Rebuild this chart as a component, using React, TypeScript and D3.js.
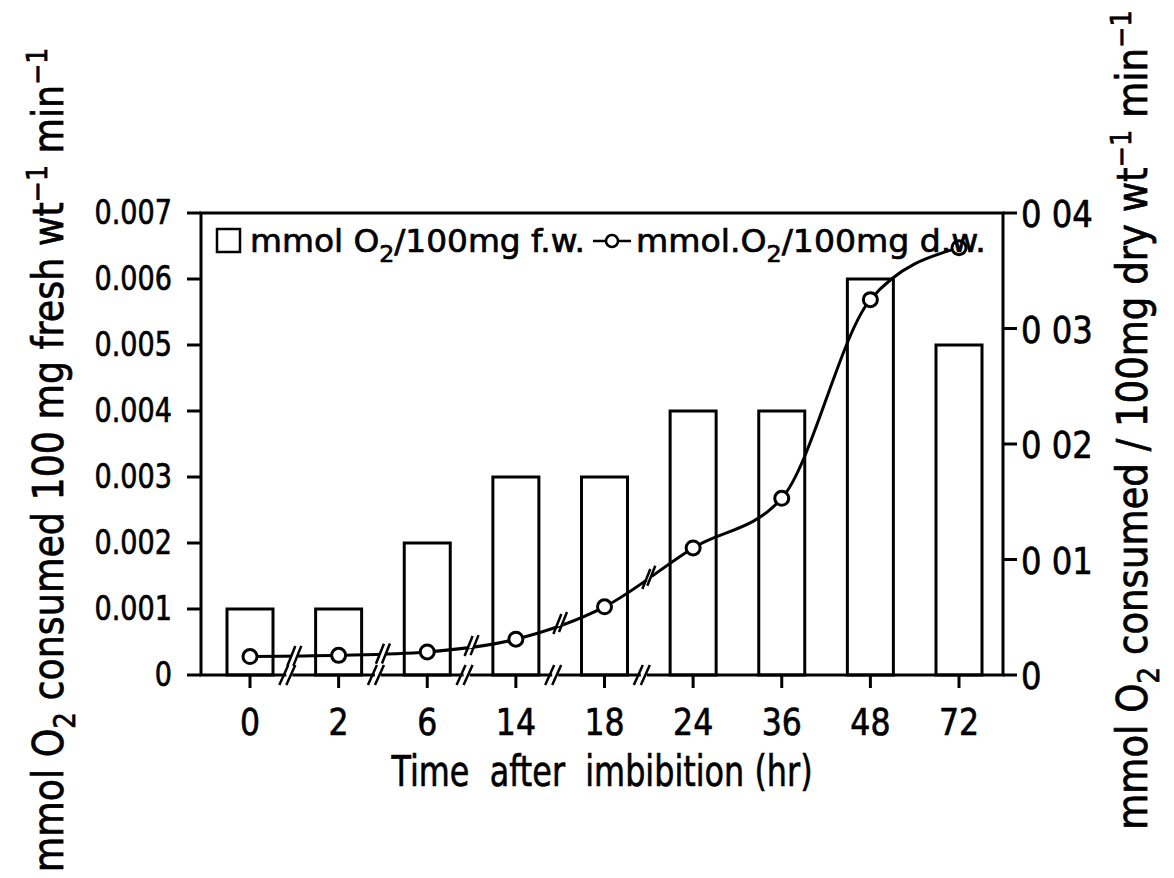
import React, { useLayoutEffect, useRef, useState } from 'react';
import * as d3 from 'd3';

// ---------- data ----------
const categories = ['0', '2', '6', '14', '18', '24', '36', '48', '72'];
const freshWt = [0.001, 0.001, 0.002, 0.003, 0.003, 0.004, 0.004, 0.006, 0.005];
const dryWt = [0.0016, 0.0017, 0.002, 0.0031, 0.0059, 0.011, 0.0153, 0.0325, 0.037];
const leftTicks = [0, 0.001, 0.002, 0.003, 0.004, 0.005, 0.006, 0.007];
const leftTickLabels = ['0', '0.001', '0.002', '0.003', '0.004', '0.005', '0.006', '0.007'];
const rightTicks = [0, 0.01, 0.02, 0.03, 0.04];
const rightTickLabels = ['0', '0 01', '0 02', '0 03', '0 04'];
const brokenSegments = [0, 1, 2, 3, 4]; // gaps after these category indices
const legendFresh = ['mmol O', '2', '/100mg f.w.'];
const legendDry = ['mmol.O', '2', '/100mg d.w.'];
const xTitle = 'Time  after  imbibition (hr)';

// ---------- layout ----------
const W = 1174;
const H = 878;
const L = 201;
const R = 1003;
const T = 213;
const B = 675;
const FONT = 'DejaVu Sans, Liberation Sans, sans-serif';
const SW = 3;
const TXT_STROKE = 0.7;

type FitProps = {
  x: number;
  y: number;
  width: number;
  rotate?: number;
  anchor?: 'start' | 'middle' | 'end';
  fontSize: number;
  children: React.ReactNode;
};

function FitText({ x, y, width, rotate = 0, anchor = 'middle', fontSize, children }: FitProps) {
  const ref = useRef<SVGTextElement>(null);
  const [k, setK] = useState(1);
  useLayoutEffect(() => {
    if (ref.current) {
      const w = ref.current.getBBox().width;
      if (w > 0) setK(width / w);
    }
  }, [width]);
  return (
    <g transform={`translate(${x},${y}) rotate(${rotate}) scale(${k},1)`}>
      <text
        ref={ref}
        textAnchor={anchor}
        fontSize={fontSize}
        fontFamily={FONT}
        fill="#000"
        stroke="#000"
        strokeWidth={TXT_STROKE}
        style={{ whiteSpace: 'pre' }}
      >
        {children}
      </text>
    </g>
  );
}

function SubParts({ parts, fs }: { parts: string[]; fs: number }) {
  const d = fs * 0.3;
  return (
    <>
      <tspan>{parts[0]}</tspan>
      <tspan dy={d} fontSize={fs * 0.72}>
        {parts[1]}
      </tspan>
      <tspan dy={-d}>{parts[2]}</tspan>
    </>
  );
}

export default function App() {
  const x = d3.scalePoint<string>().domain(categories).range([L + 49, R - 44]);
  const yL = d3.scaleLinear().domain([0, 0.007]).range([B, T]);
  const yR = d3.scaleLinear().domain([0, 0.04]).range([B, T]);
  const barW = 46;

  const pts: [number, number][] = categories.map((c, i) => [x(c)!, yR(dryWt[i])]);
  const linePath = d3.line().curve(d3.curveMonotoneX)(pts) || '';

  const step = x.step();

  const txtProps = { fontFamily: FONT, stroke: '#000', strokeWidth: TXT_STROKE };

  return (
    <svg
      width={W}
      height={H}
      style={{ position: 'absolute', left: 0, top: 0, background: '#fff' }}
      fontFamily={FONT}
    >
      <rect x={0} y={0} width={W} height={H} fill="#fff" />

      {/* bars */}
      {categories.map((c, i) => (
        <rect
          key={'b' + c}
          x={x(c)! - barW / 2}
          y={yL(freshWt[i])}
          width={barW}
          height={B - yL(freshWt[i])}
          fill="#fff"
          stroke="#000"
          strokeWidth={SW}
        />
      ))}

      {/* frame */}
      <rect x={L} y={T} width={R - L} height={B - T} fill="none" stroke="#000" strokeWidth={SW} />

      {/* x-axis breaks */}
      {brokenSegments.map((i) => {
        const mx = x(categories[i])! + step / 2 - 5;
        return (
          <g key={'xb' + i} stroke="#000" strokeWidth={2.5}>
            <rect x={mx - 3} y={B - 3} width={6} height={6} fill="#fff" stroke="none" />
            <line x1={mx - 10} y1={B + 10} x2={mx - 1} y2={B - 10} />
            <line x1={mx - 3} y1={B + 10} x2={mx + 6} y2={B - 10} />
          </g>
        );
      })}

      {/* x ticks and labels */}
      {categories.map((c) => (
        <g key={'xt' + c}>
          <line x1={x(c)} x2={x(c)} y1={B} y2={B + 13} stroke="#000" strokeWidth={SW} />
          <g transform={`translate(${x(c)},735) scale(0.83,1)`}>
            <text textAnchor="middle" fontSize={38} {...txtProps}>
              {c}
            </text>
          </g>
        </g>
      ))}

      {/* left ticks */}
      {leftTicks.map((t, i) => (
        <g key={'lt' + i}>
          <line x1={L - 14} x2={L} y1={yL(t)} y2={yL(t)} stroke="#000" strokeWidth={SW} />
          <g transform={`translate(172,${yL(t) + 11}) scale(0.82,1)`}>
            <text textAnchor="end" fontSize={33} {...txtProps}>
              {leftTickLabels[i]}
            </text>
          </g>
        </g>
      ))}

      {/* right ticks */}
      {rightTicks.map((t, i) => (
        <g key={'rt' + i}>
          <line x1={R} x2={R + 14} y1={yR(t)} y2={yR(t)} stroke="#000" strokeWidth={SW} />
          <g transform={`translate(1021,${yR(t) + 14}) scale(0.85,1)`}>
            <text textAnchor="start" fontSize={38} {...txtProps} style={{ whiteSpace: 'pre' }}>
              {rightTickLabels[i]}
            </text>
          </g>
        </g>
      ))}

      {/* dry weight line */}
      <path d={linePath} fill="none" stroke="#000" strokeWidth={SW} />
      {brokenSegments.map((i) => {
        const [x0, y0] = pts[i];
        const [x1, y1] = pts[i + 1];
        const mx = (x0 + x1) / 2;
        const my = (y0 + y1) / 2;
        const ang = Math.atan2(y1 - y0, x1 - x0);
        const ux = Math.cos(ang);
        const uy = Math.sin(ang);
        return (
          <g key={'lb' + i} stroke="#000" strokeWidth={2.5}>
            <line
              x1={mx - 3 * ux}
              y1={my - 3 * uy}
              x2={mx + 3 * ux}
              y2={my + 3 * uy}
              stroke="#fff"
              strokeWidth={5}
            />
            <line x1={mx - 3 * ux - 4} y1={my - 3 * uy + 10} x2={mx - 3 * ux + 4} y2={my - 3 * uy - 10} />
            <line x1={mx + 3 * ux - 4} y1={my + 3 * uy + 10} x2={mx + 3 * ux + 4} y2={my + 3 * uy - 10} />
          </g>
        );
      })}
      {pts.map(([px, py], i) => (
        <circle key={'m' + i} cx={px} cy={py} r={7} fill="#fff" stroke="#000" strokeWidth={SW} />
      ))}

      {/* legend */}
      <rect x={217} y={229} width={23} height={23} fill="#fff" stroke="#000" strokeWidth={2.5} />
      <FitText x={250} y={252} width={335} anchor="start" fontSize={32}>
        <SubParts parts={legendFresh} fs={32} />
      </FitText>
      <line x1={593} x2={631} y1={241} y2={241} stroke="#000" strokeWidth={2.5} />
      <circle cx={612} cy={241} r={6} fill="#fff" stroke="#000" strokeWidth={2.5} />
      <FitText x={636} y={252} width={350} anchor="start" fontSize={32}>
        <SubParts parts={legendDry} fs={32} />
      </FitText>

      {/* x title */}
      <FitText x={(L + R) / 2} y={786} width={422} anchor="middle" fontSize={42}>
        {xTitle}
      </FitText>

      {/* left title */}
      <FitText x={63} y={460} width={825} rotate={-90} anchor="middle" fontSize={42}>
        <tspan>mmol O</tspan>
        <tspan dy={12} fontSize={30}>
          2
        </tspan>
        <tspan dy={-12}> consumed 100 mg fresh wt</tspan>
        <tspan dy={-16} fontSize={29}>
          −1
        </tspan>
        <tspan dy={16}> min</tspan>
        <tspan dy={-16} fontSize={29}>
          −1
        </tspan>
      </FitText>

      {/* right title */}
      <FitText x={1147} y={420} width={820} rotate={-90} anchor="middle" fontSize={42}>
        <tspan>mmol O</tspan>
        <tspan dy={12} fontSize={30}>
          2
        </tspan>
        <tspan dy={-12}> consumed / 100mg dry wt</tspan>
        <tspan dy={-16} fontSize={29}>
          −1
        </tspan>
        <tspan dy={16}> min</tspan>
        <tspan dy={-16} fontSize={29}>
          −1
        </tspan>
      </FitText>
    </svg>
  );
}
